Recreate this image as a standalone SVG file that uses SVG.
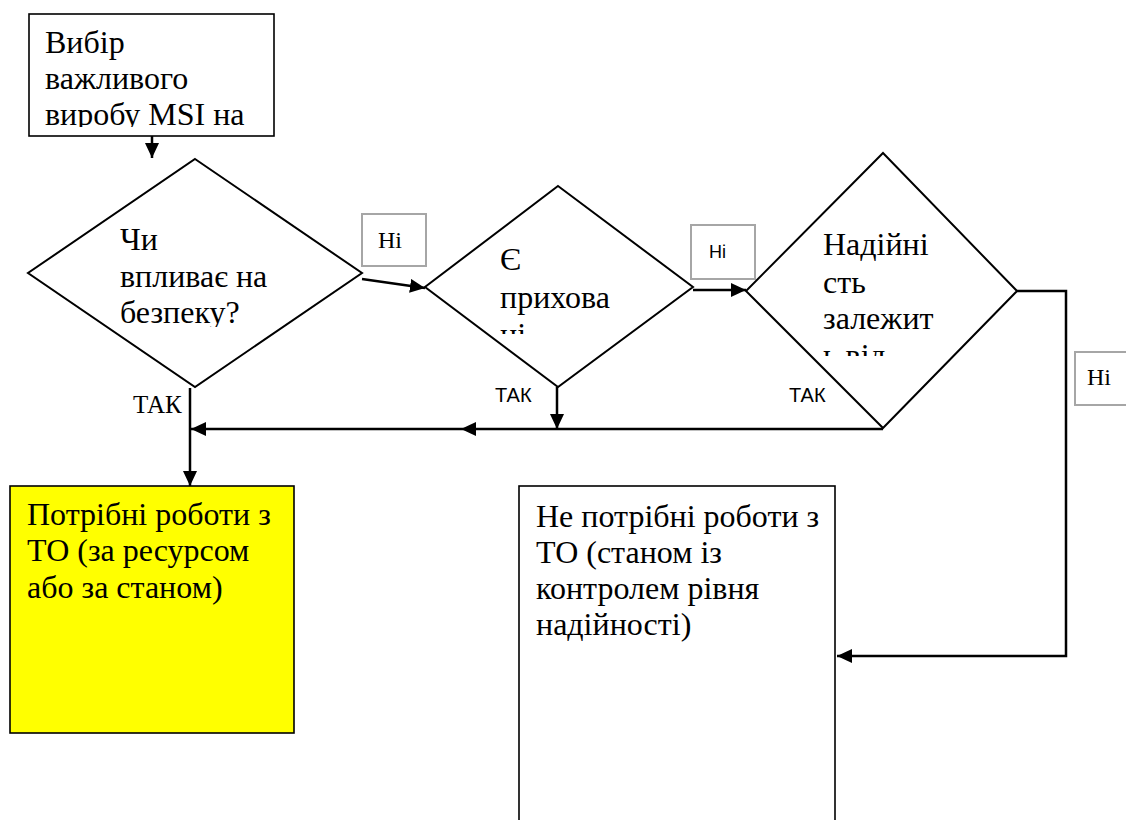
<svg xmlns="http://www.w3.org/2000/svg" width="1126" height="820" viewBox="0 0 1126 820">
<style>
.box{fill:#fff;stroke:#000;stroke-width:1.6}
.dia{fill:#fff;stroke:#000;stroke-width:2}
.lbl{fill:#fff;stroke:#a6a6a6;stroke-width:2}
.t{font-family:"Liberation Serif","Times New Roman",serif;font-size:32px;fill:#000}
.ts{font-family:"Liberation Serif","Times New Roman",serif;font-size:24px;fill:#000}
.tk{font-family:"Liberation Sans",Arial,sans-serif;font-size:20px;fill:#000}
.hs{font-family:"Liberation Sans",Arial,sans-serif;font-size:18px;fill:#000}
.c{fill:none;stroke:#000;stroke-width:2.5}
</style>
<defs>
<marker id="ah" markerUnits="userSpaceOnUse" markerWidth="16" markerHeight="14" refX="15" refY="7" orient="auto">
<path d="M0,0 L15,7 L0,14 Z" fill="#000"/>
</marker>
<clipPath id="c1"><rect x="29" y="14" width="245" height="113"/></clipPath>
<clipPath id="c2"><rect x="100" y="200" width="200" height="127"/></clipPath>
<clipPath id="c3"><rect x="490" y="230" width="140" height="104"/></clipPath>
<clipPath id="c4"><rect x="810" y="220" width="150" height="136"/></clipPath>
</defs>

<g id="connectors">
<path class="c" d="M152,136 L152,158" marker-end="url(#ah)"/>
<path class="c" d="M362,279 L425,288" marker-end="url(#ah)"/>
<path class="c" d="M693,290 L746,290" marker-end="url(#ah)"/>
<path class="c" d="M190,388 L190,486" marker-end="url(#ah)"/>
<path class="c" d="M883,429 L461,429" marker-end="url(#ah)"/>
<path class="c" d="M461,429 L191,429" marker-end="url(#ah)"/>
<path class="c" d="M557,387 L557,429" marker-end="url(#ah)"/>
<path class="c" d="M1017,291 L1066,291 L1066,656 L837,656" marker-end="url(#ah)"/>
</g>

<g id="start">
<rect class="box" x="29" y="14" width="245" height="122"/>
<g clip-path="url(#c1)">
<text class="t" x="45" y="53">Вибір</text>
<text class="t" x="45" y="89">важливого</text>
<text class="t" x="45" y="125">виробу MSI на</text>
</g>
</g>

<g id="d1">
<polygon class="dia" points="195,159 362,273 195,387 28,273"/>
<g clip-path="url(#c2)">
<text class="t" x="120" y="250">Чи</text>
<text class="t" x="120" y="287">впливає на</text>
<text class="t" x="120" y="323">безпеку?</text>
</g>
</g>

<g id="no1">
<rect class="lbl" x="362" y="214" width="64" height="52"/>
<text class="ts" x="378" y="248">Ні</text>
</g>

<g id="d2">
<polygon class="dia" points="558,186 693,287 558,387 425,287"/>
<g clip-path="url(#c3)">
<text class="t" x="500" y="270">Є</text>
<text class="t" x="500" y="308">прихова</text>
<text class="t" x="500" y="345">ні</text>
</g>
</g>

<g id="no2">
<rect class="lbl" x="691" y="225" width="64" height="54"/>
<text class="hs" x="709" y="258">Ні</text>
</g>

<g id="d3">
<polygon class="dia" points="883,153 1017,291 883,428 746,291"/>
<g clip-path="url(#c4)">
<text class="t" x="823" y="255">Надійні</text>
<text class="t" x="823" y="293">сть</text>
<text class="t" x="823" y="329">залежит</text>
<text class="t" x="823" y="366">ь від</text>
</g>
</g>

<g id="no3">
<rect class="lbl" x="1075" y="352" width="60" height="53"/>
<text class="ts" x="1087" y="385">Ні</text>
</g>

<g id="yes-labels">
<text class="ts" x="133" y="413" style="font-size:25px">ТАК</text>
<text class="tk" x="495" y="402">ТАК</text>
<text class="tk" x="789" y="402">ТАК</text>
</g>

<g id="needed">
<rect x="10" y="486" width="284" height="247" fill="#ffff00" stroke="#000" stroke-width="1.6"/>
<text class="t" x="27" y="525">Потрібні роботи з</text>
<text class="t" x="27" y="561">ТО (за ресурсом</text>
<text class="t" x="27" y="598">або за станом)</text>
</g>

<g id="not-needed">
<rect class="box" x="519" y="486" width="316" height="350"/>
<text class="t" x="536" y="527">Не потрібні роботи з</text>
<text class="t" x="536" y="563">ТО (станом із</text>
<text class="t" x="536" y="599">контролем рівня</text>
<text class="t" x="536" y="635">надійності)</text>
</g>
</svg>
